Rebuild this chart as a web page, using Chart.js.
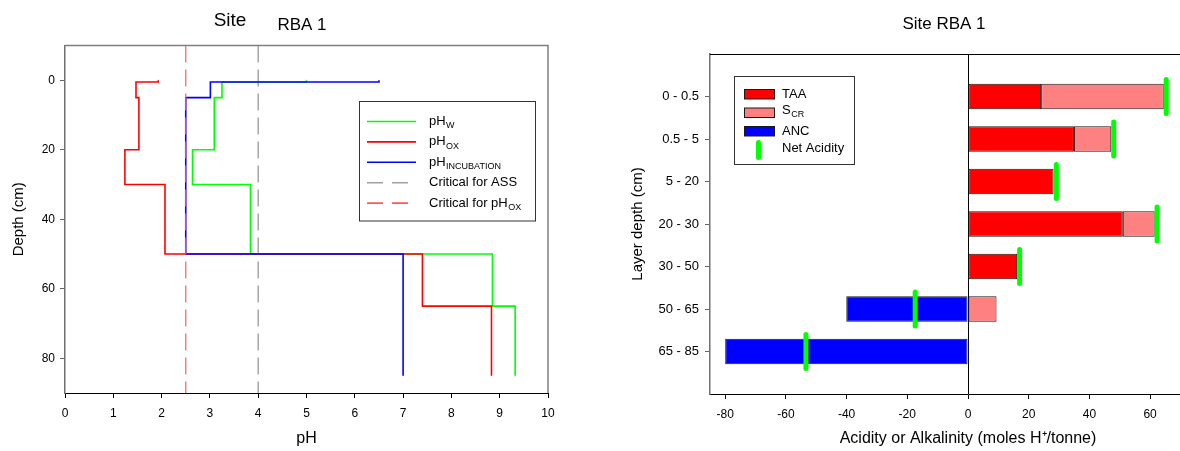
<!DOCTYPE html>
<html><head><meta charset="utf-8">
<script src="https://cdn.jsdelivr.net/npm/chart.js@4.4.1/dist/chart.umd.min.js"></script>
<style>
html,body{margin:0;padding:0;background:#fff;overflow:hidden;}
#wrap{position:relative;width:1180px;height:451px;overflow:hidden;}
canvas{position:absolute;top:0;}
#c1{left:0;}
#c2{left:600px;}
</style></head><body>
<div id="wrap"><canvas id="c1" width="600" height="451"></canvas><canvas id="c2" width="648" height="451"></canvas></div>
<script>
const FONT = "'Liberation Sans', Arial, Helvetica, sans-serif";

// ---------- Left chart data (pH profiles) ----------
const layerTop    = [0, 0.5, 5, 20, 30, 50, 65];
const layerBottom = [0.5, 5, 20, 30, 50, 65, 85];
const pHw          = [5.0, 3.25, 3.09, 2.64, 3.84, 8.85, 9.32];
const pHox         = [1.93, 1.47, 1.53, 1.24, 2.07, 7.40, 8.83];
const pHincubation = [6.5, 3.01, 2.5, 2.5, 2.5, 7.0, 7.0];
const criticalASS  = 4.0;
const criticalPHox = 2.5;
const phTicks    = [0, 1, 2, 3, 4, 5, 6, 7, 8, 9, 10];
const depthTicks = [0, 20, 40, 60, 80];

// ---------- Right chart data (acid budget) ----------
const layers     = ['0 - 0.5', '0.5 - 5', '5 - 20', '20 - 30', '30 - 50', '50 - 65', '65 - 85'];
const taa        = [24.1, 34.9, 28.2, 51.0, 16.2, null, null];
const scr        = [40.4, 12.3, null, 10.5, null, 9.4, null];
const anc        = [null, null, null, null, null, -40.1, -80.0];
const netAcidity = [65.3, 48.0, 29.1, 62.3, 17.0, -17.4, -53.4];
const acidityTicks = [-80, -60, -40, -20, 0, 20, 40, 60, 80];

// ---------- helpers ----------
const DEPTH_MIN = -10, DEPTH_MAX = 90;
function stepPoints(vals) {
  const pts = [];
  vals.forEach((v, i) => { pts.push({x: v, y: layerTop[i]}); pts.push({x: v, y: layerBottom[i]}); });
  return pts;
}
function lineDs(label, data, color, order, extra) {
  return Object.assign({label, data, borderColor: color, backgroundColor: color, borderWidth: 1.6,
    pointRadius: 0, pointHoverRadius: 0, showLine: true, tension: 0, fill: false, order}, extra || {});
}
function drawSub(ctx, main, sub, x, y, size) {
  ctx.font = size + 'px ' + FONT;
  ctx.textAlign = 'left';
  ctx.textBaseline = 'middle';
  ctx.fillText(main, x, y);
  const w = ctx.measureText(main).width;
  if (sub) {
    ctx.font = Math.round(size * 0.68) + 'px ' + FONT;
    ctx.fillText(sub, x + w + 0.5, y + 4.5);
  }
}

// ---------- Left chart ----------
const leftDecor = {
  id: 'leftDecor',
  afterDraw(chart) {
    const ctx = chart.ctx, a = chart.chartArea;
    ctx.save();
    ctx.strokeStyle = '#808080'; ctx.lineWidth = 1.5;
    ctx.beginPath();
    ctx.moveTo(a.left, a.top); ctx.lineTo(a.right, a.top); ctx.lineTo(a.right, a.bottom);
    ctx.stroke();
    ctx.fillStyle = '#000';
    ctx.textAlign = 'center'; ctx.textBaseline = 'middle';
    ctx.font = '19px ' + FONT; ctx.fillText('Site', 230, 21);
    ctx.font = '17px ' + FONT; ctx.fillText('RBA 1', 302, 25);
    const bx = 359.5, by = 101.5, bw = 176, bh = 119.5;
    ctx.fillStyle = '#fff'; ctx.fillRect(bx, by, bw, bh);
    ctx.strokeStyle = '#333'; ctx.lineWidth = 1; ctx.strokeRect(bx, by, bw, bh);
    const items = [
      {c: '#00ff00', main: 'pH', sub: 'W'},
      {c: '#ff0000', main: 'pH', sub: 'OX'},
      {c: '#0000ff', main: 'pH', sub: 'INCUBATION'},
      {c: '#a0a0a0', main: 'Critical for ASS', sub: '', dash: true},
      {c: '#ff5a5a', main: 'Critical for pH', sub: 'OX', dash: true}
    ];
    items.forEach((it, i) => {
      const y = 121.5 + i * 20.4;
      ctx.strokeStyle = it.c; ctx.lineWidth = 1.6;
      ctx.setLineDash(it.dash ? [16, 9] : []);
      ctx.beginPath(); ctx.moveTo(367, y); ctx.lineTo(it.dash ? 410 : 416, y); ctx.stroke();
      ctx.setLineDash([]);
      ctx.fillStyle = '#000';
      drawSub(ctx, it.main, it.sub, 429, y, 13);
    });
    ctx.restore();
  }
};

new Chart(document.getElementById('c1'), {
  type: 'scatter',
  data: {
    datasets: [
      lineDs('pHW', stepPoints(pHw), '#00ff00', 4),
      lineDs('pHOX', stepPoints(pHox), '#ff0000', 3),
      lineDs('pHINCUBATION', stepPoints(pHincubation), '#0000ff', 1),
      lineDs('Critical for ASS', [{x: criticalASS, y: DEPTH_MIN}, {x: criticalASS, y: DEPTH_MAX}], '#a0a0a0', 2,
        {borderDash: [17, 7], borderWidth: 1.4}),
      lineDs('Critical for pHOX', [{x: criticalPHox, y: DEPTH_MIN}, {x: criticalPHox, y: DEPTH_MAX}], '#ff5a5a', 0,
        {borderDash: [17, 7], borderWidth: 1.2})
    ]
  },
  options: {
    responsive: false, animation: false, devicePixelRatio: 1,
    layout: {padding: {left: 0, top: 45.5, right: 52, bottom: 0}},
    plugins: {legend: {display: false}, tooltip: {enabled: false}},
    scales: {
      x: {
        type: 'linear', min: 0, max: 10,
        afterBuildTicks: s => { s.ticks = phTicks.map(v => ({value: v})); },
        afterFit: s => { s.height = 58; },
        grid: {drawOnChartArea: false, drawTicks: true, tickLength: 5, tickColor: '#000', color: '#000'},
        border: {color: '#000', width: 1},
        ticks: {padding: 8, color: '#000', font: {family: FONT, size: 12}, maxRotation: 0, autoSkip: false},
        title: {display: true, text: 'pH', color: '#000', font: {family: FONT, size: 16}, padding: {top: 0, bottom: 3}}
      },
      y: {
        type: 'linear', reverse: true, min: DEPTH_MIN, max: DEPTH_MAX,
        afterBuildTicks: s => { s.ticks = depthTicks.map(v => ({value: v})); },
        afterFit: s => { s.width = 65; },
        grid: {drawOnChartArea: false, drawTicks: true, tickLength: 5, tickColor: '#666', color: '#666'},
        border: {color: '#707070', width: 1.5},
        ticks: {padding: 5, color: '#000', font: {family: FONT, size: 12}, autoSkip: false},
        title: {display: true, text: 'Depth (cm)', color: '#000', font: {family: FONT, size: 15}, padding: {top: 10, bottom: 0}}
      }
    }
  },
  plugins: [leftDecor]
});

// ---------- Right chart ----------
const padLabels = [''].concat(layers, ['']);
const pts = arr => arr.map((v, i) => ({x: v, y: layers[i]})).filter(p => p.x !== null);

const rightDecor = {
  id: 'rightDecor',
  beforeDatasetDraw(chart, args) {
    if (args.index === 3) chart.ctx.lineCap = 'round';
  },
  afterDatasetDraw(chart, args) {
    if (args.index === 3) chart.ctx.lineCap = 'butt';
  },
  afterDraw(chart) {
    const ctx = chart.ctx, a = chart.chartArea;
    ctx.save();
    ctx.strokeStyle = '#000'; ctx.lineWidth = 1;
    ctx.beginPath(); ctx.moveTo(a.left, a.top + 0.5); ctx.lineTo(a.right, a.top + 0.5); ctx.stroke();
    ctx.fillStyle = '#000';
    ctx.textAlign = 'center'; ctx.textBaseline = 'middle';
    ctx.font = '17px ' + FONT; ctx.fillText('Site RBA 1', 344, 24);
    const bx = 134.5, by = 76.5, bw = 120, bh = 88;
    ctx.fillStyle = '#fff'; ctx.fillRect(bx, by, bw, bh);
    ctx.strokeStyle = '#333'; ctx.lineWidth = 1; ctx.strokeRect(bx, by, bw, bh);
    const sw = [
      {c: '#ff0000', y: 94, main: 'TAA', sub: ''},
      {c: '#ff8080', y: 112.5, main: 'S', sub: 'CR'},
      {c: '#0000ff', y: 131, main: 'ANC', sub: ''}
    ];
    sw.forEach(s => {
      ctx.fillStyle = s.c; ctx.fillRect(144.5, s.y - 4.5, 30, 9.5);
      ctx.strokeStyle = '#1a1a1a'; ctx.strokeRect(144.5, s.y - 4.5, 30, 9.5);
      ctx.fillStyle = '#000';
      drawSub(ctx, s.main, s.sub, 182, s.y - (s.sub ? 2 : 0), 13);
    });
    ctx.strokeStyle = '#00ff00'; ctx.lineWidth = 5; ctx.lineCap = 'round';
    ctx.beginPath(); ctx.moveTo(158.5, 142.5); ctx.lineTo(158.5, 157.5); ctx.stroke();
    ctx.fillStyle = '#000';
    drawSub(ctx, 'Net Acidity', '', 182, 148, 13);
    ctx.restore();
  }
};

new Chart(document.getElementById('c2'), {
  type: 'bar',
  data: {
    labels: padLabels,
    datasets: [
      {label: 'TAA', data: pts(taa), backgroundColor: '#ff0000', stack: 's', order: 1},
      {label: 'SCR', data: pts(scr), backgroundColor: '#ff8080', stack: 's', order: 1},
      {label: 'ANC', data: pts(anc), backgroundColor: '#0000ff', stack: 's', order: 1},
      {type: 'line', indexAxis: 'y', label: 'Net Acidity', data: pts(netAcidity), showLine: false,
        pointStyle: 'line', rotation: 90, pointRadius: 17, pointHoverRadius: 17, pointBorderWidth: 5,
        pointBorderColor: '#00ff00', pointBackgroundColor: '#00ff00', borderColor: '#00ff00', order: 0}
    ]
  },
  options: {
    indexAxis: 'y',
    responsive: false, animation: false, devicePixelRatio: 1,
    layout: {padding: {left: 0, top: 54, right: 14, bottom: 0}},
    plugins: {legend: {display: false}, tooltip: {enabled: false}},
    datasets: {bar: {borderWidth: 1, borderColor: '#1a1a1a', borderSkipped: false, barPercentage: 0.6, categoryPercentage: 1}},
    scales: {
      x: {
        type: 'linear', min: -85, max: 85, stacked: true,
        afterBuildTicks: s => { s.ticks = acidityTicks.map(v => ({value: v})); },
        afterFit: s => { s.height = 57; },
        grid: {drawOnChartArea: true, drawTicks: true, tickLength: 5, tickColor: '#000', lineWidth: 1,
          color: c => (c.tick && c.tick.value === 0) ? '#000' : 'rgba(0,0,0,0)'},
        border: {color: '#000', width: 1},
        ticks: {padding: 8, color: '#000', font: {family: FONT, size: 12}, maxRotation: 0, autoSkip: false},
        title: {display: true, text: 'Acidity or Alkalinity (moles H\u207A/tonne)', color: '#000',
          font: {family: FONT, size: 16}, padding: {top: 0, bottom: 3}}
      },
      y: {
        type: 'category', offset: false, stacked: true,
        afterFit: s => { s.width = 110; },
        grid: {offset: false, drawOnChartArea: false, drawTicks: true, tickLength: 5,
          tickColor: c => (c.index === 0 || c.index === padLabels.length - 1) ? 'rgba(0,0,0,0)' : '#666'},
        border: {color: '#707070', width: 1.5},
        ticks: {padding: 6, color: '#000', font: {family: FONT, size: 13}, autoSkip: false},
        title: {display: true, text: 'Layer depth (cm)', color: '#000', font: {family: FONT, size: 15}, padding: {top: 29, bottom: 0}}
      }
    }
  },
  plugins: [rightDecor]
});
</script>
</body></html>
